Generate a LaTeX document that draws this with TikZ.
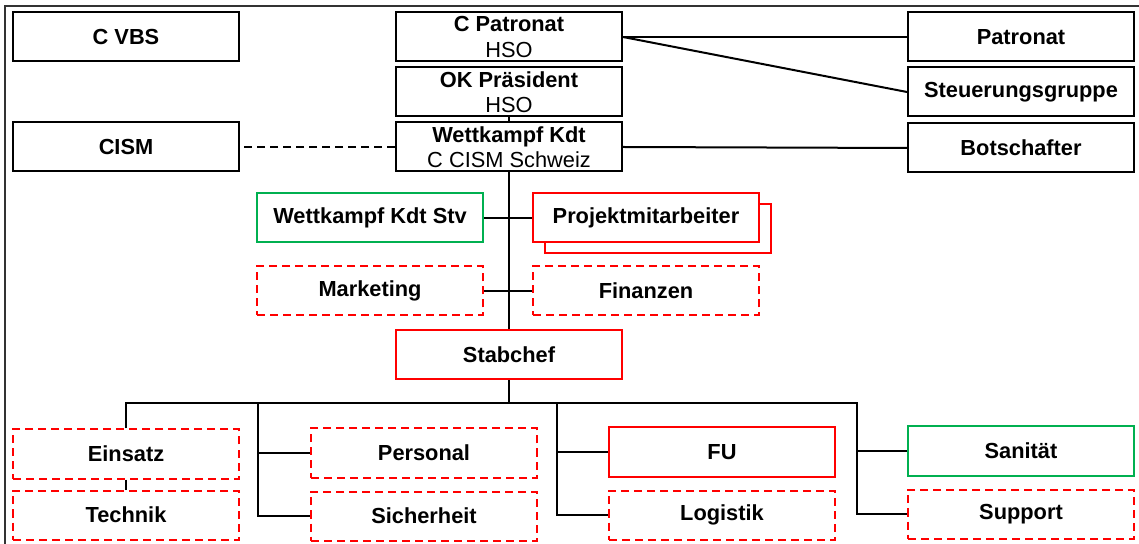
\documentclass[tikz,border=0pt]{standalone}
\usepackage{fontspec}
\setmainfont{Liberation Sans}
\usetikzlibrary{positioning}

\definecolor{orgred}{RGB}{255,0,0}
\definecolor{orggreen}{RGB}{0,176,80}

\tikzset{
    unit/.style={draw, line width=1pt, rectangle, fill=white, minimum width=113pt,
        minimum height=24.5pt, inner sep=1pt, align=center,
        font=\fontsize{10.9}{12.6}\selectfont\bfseries},
    redunit/.style={unit, draw=orgred},
    greenunit/.style={unit, draw=orggreen},
    openunit/.style={unit, draw=orgred, dash pattern=on 4pt off 2.5pt},
    link/.style={draw, line width=1pt},
}

\begin{document}
\begin{tikzpicture}[x=0.5pt, y=-0.5pt]
            \useasboundingbox (0,0) rectangle (1139,544);
            % frame of the slide
            \draw [black!80, line width=1pt] (5,544) -- (5,6) -- (1139,6);

            % top rows
            \node [unit] (cvbs) at (126,37) {C VBS};
            \node [unit] (cism) at (126,147) {CISM};
            \node [unit] (cpatronat) at (509,37) {C Patronat\\\mdseries HSO};
            \node [unit] (okpraes) at (509,92) {OK Präsident\\\mdseries HSO};
            \node [unit] (wkkdt) at (509,147) {Wettkampf Kdt\\\mdseries C CISM Schweiz};
            \node [unit] (patronat) at (1021,37) {Patronat};
            \node [unit] (steuerung) at (1021,92) {Steuerungsgruppe};
            \node [unit] (botschafter) at (1021,148) {Botschafter};

            % staff around the commander
            \node [greenunit] (kdtstv) at (370,218) {Wettkampf Kdt Stv};
            \node [redunit] (projektback) at (658,229) {};
            \node [redunit] (projekt) at (646,218) {Projektmitarbeiter};
            \node [openunit] (marketing) at (370,291) {Marketing};
            \node [openunit] (finanzen) at (646,291) {Finanzen};
            \node [redunit] (stabchef) at (509,355) {Stabchef};

            % departments
            \node [openunit] (einsatz) at (126,454) {Einsatz};
            \node [openunit, below=5pt of einsatz] (technik) {Technik};
            \node [openunit] (personal) at (424,453) {Personal};
            \node [openunit, below=6pt of personal] (sicherheit) {Sicherheit};
            \node [redunit] (fu) at (722,452) {FU};
            \node [openunit, below=6pt of fu] (logistik) {Logistik};
            \node [greenunit] (sanitaet) at (1021,451) {Sanität};
            \node [openunit, below=6pt of sanitaet] (support) {Support};

            \coordinate (bus) at (509,403);
            \coordinate (col2) at (258,403);
            \coordinate (col3) at (557,403);
            \coordinate (col4) at (857,403);

            \draw [link] (cpatronat.east) -- (patronat.west);
            \draw [link] (cpatronat.east) -- (steuerung.west);
            \draw [link] (wkkdt.east) -- (botschafter.west);
            \draw [link, dash pattern=on 4pt off 2.5pt] (wkkdt.west) -- (cism.east);
            \draw [link] (okpraes.south) -- (wkkdt.north);
            \draw [link] (wkkdt.south) -- (stabchef.north);
            \draw [link] (kdtstv.east) -- (projekt.west);
            \draw [link] (marketing.east) -- (finanzen.west);

            \draw [link] (stabchef.south) -- (bus);
            \draw [link] (einsatz.north) |- (col4) |- (support.west);
            \draw [link] (einsatz.south) -- (technik.north);
            \draw [link] (col2) |- (personal.west);
            \draw [link] (col2) |- (sicherheit.west);
            \draw [link] (col3) |- (fu.west);
            \draw [link] (col3) |- (logistik.west);
            \draw [link] (col4) |- (sanitaet.west);

        \end{tikzpicture}
\end{document}
